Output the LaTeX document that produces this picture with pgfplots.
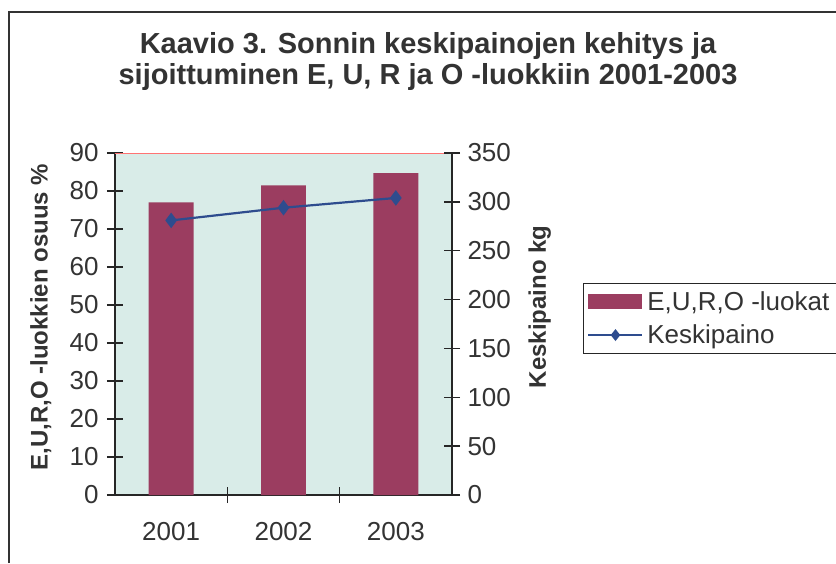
\documentclass[border=0pt]{standalone}
\usepackage{pgfplots}
\pgfplotsset{compat=1.18}
\usepackage{fontspec}
\setmainfont{Liberation Sans}
\definecolor{barc}{HTML}{9B3D60}
\definecolor{bgc}{HTML}{D9ECE8}
\definecolor{linec}{HTML}{2E4C8E}
\definecolor{txt}{HTML}{333333}
\begin{document}
\begin{tikzpicture}[x=1pt,y=1pt]
\useasboundingbox (0,0) rectangle (836,563);
\draw[line width=1.6pt, black!80] (9,0) -- (9,551) -- (840,551);
\node[font=\fontsize{29}{31}\selectfont\bfseries, text=txt, align=center] at (428,501)
  {Kaavio 3. Sonnin keskipainojen kehitys ja\\sijoittuminen E, U, R ja O -luokkiin 2001-2003};
\begin{axis}[
  at={(115pt,68pt)}, anchor=south west,
  scale only axis, width=337pt, height=342pt,
  xmin=-0.5, xmax=2.5, ymin=0, ymax=90,
  axis x line*=bottom, axis y line*=left,
  axis line style={line width=1.4pt, black!85, -},
  axis background/.style={fill=bgc},
  ytick={0,10,...,90},
  xtick={0,1,2}, xticklabels={2001,2002,2003},
  minor xtick={0.5,1.5},
  tick align=center,
  major tick length=16pt, minor tick length=16pt,
  x tick style={draw=none},
  minor x tick style={draw=black!85, line width=1.4pt},
  y tick style={line width=1.4pt, black!85},
  xticklabel style={font=\fontsize{26}{28}\selectfont, text=txt, yshift=-16pt},
  yticklabel style={font=\fontsize{26}{28}\selectfont, text=txt, xshift=-5pt},
  /pgf/number format/assume math mode=true,
  ylabel={E,U,R,O -luokkien osuus \%},
  ylabel style={font=\fontsize{24}{26}\selectfont\bfseries, text=txt, at={(axis description cs:-0.22,0.52)}, rotate=0, anchor=center},
  legend style={at={(axis description cs:1.389,0.62)}, anchor=north west, draw=black!85, line width=1.2pt, font=\fontsize{26}{28}\selectfont, text=txt, inner xsep=4pt, inner ysep=6pt, row sep=9pt, nodes={inner xsep=4pt}},
  legend cell align=left,
  clip=false,
]
\addplot[ybar, bar width=0.4, fill=barc, draw=none,
  legend image code/.code={\fill[barc] (0pt,-7pt) rectangle (54pt,8pt);}] coordinates {(0,77) (1,81.5) (2,84.7)};
\addlegendentry{E,U,R,O -luokat}
\addlegendimage{legend image code/.code={\draw[linec, line width=1.6pt] (0pt,0pt) -- (54pt,0pt); \fill[linec] (27pt,0pt) +(0,5pt) -- +(4pt,0) -- +(0,-5pt) -- +(-4pt,0) -- cycle;}}
\addlegendentry{Keskipaino}
\draw[red!55, line width=1pt] (rel axis cs:0,1) -- (rel axis cs:1,1);
\end{axis}
\begin{axis}[
  at={(115pt,68pt)}, anchor=south west,
  scale only axis, width=337pt, height=342pt,
  xmin=-0.5, xmax=2.5, ymin=0, ymax=350,
  axis x line=none, axis y line*=right,
  axis line style={line width=1.4pt, black!85, -},
  ytick={0,50,...,350},
  tick align=center, major tick length=16pt,
  y tick style={line width=1.4pt, black!85},
  yticklabel style={font=\fontsize{26}{28}\selectfont, text=txt, xshift=4pt},
  /pgf/number format/assume math mode=true,
  ylabel={Keskipaino kg},
  ylabel style={font=\fontsize{24}{26}\selectfont\bfseries, text=txt, at={(axis description cs:1.26,0.55)}, rotate=0, anchor=center},
  clip=false,
]
\addplot[linec, line width=2.2pt, mark=diamond*, mark size=6pt] coordinates {(0,281) (1,294) (2,304)};
\end{axis}
\end{tikzpicture}
\end{document}
